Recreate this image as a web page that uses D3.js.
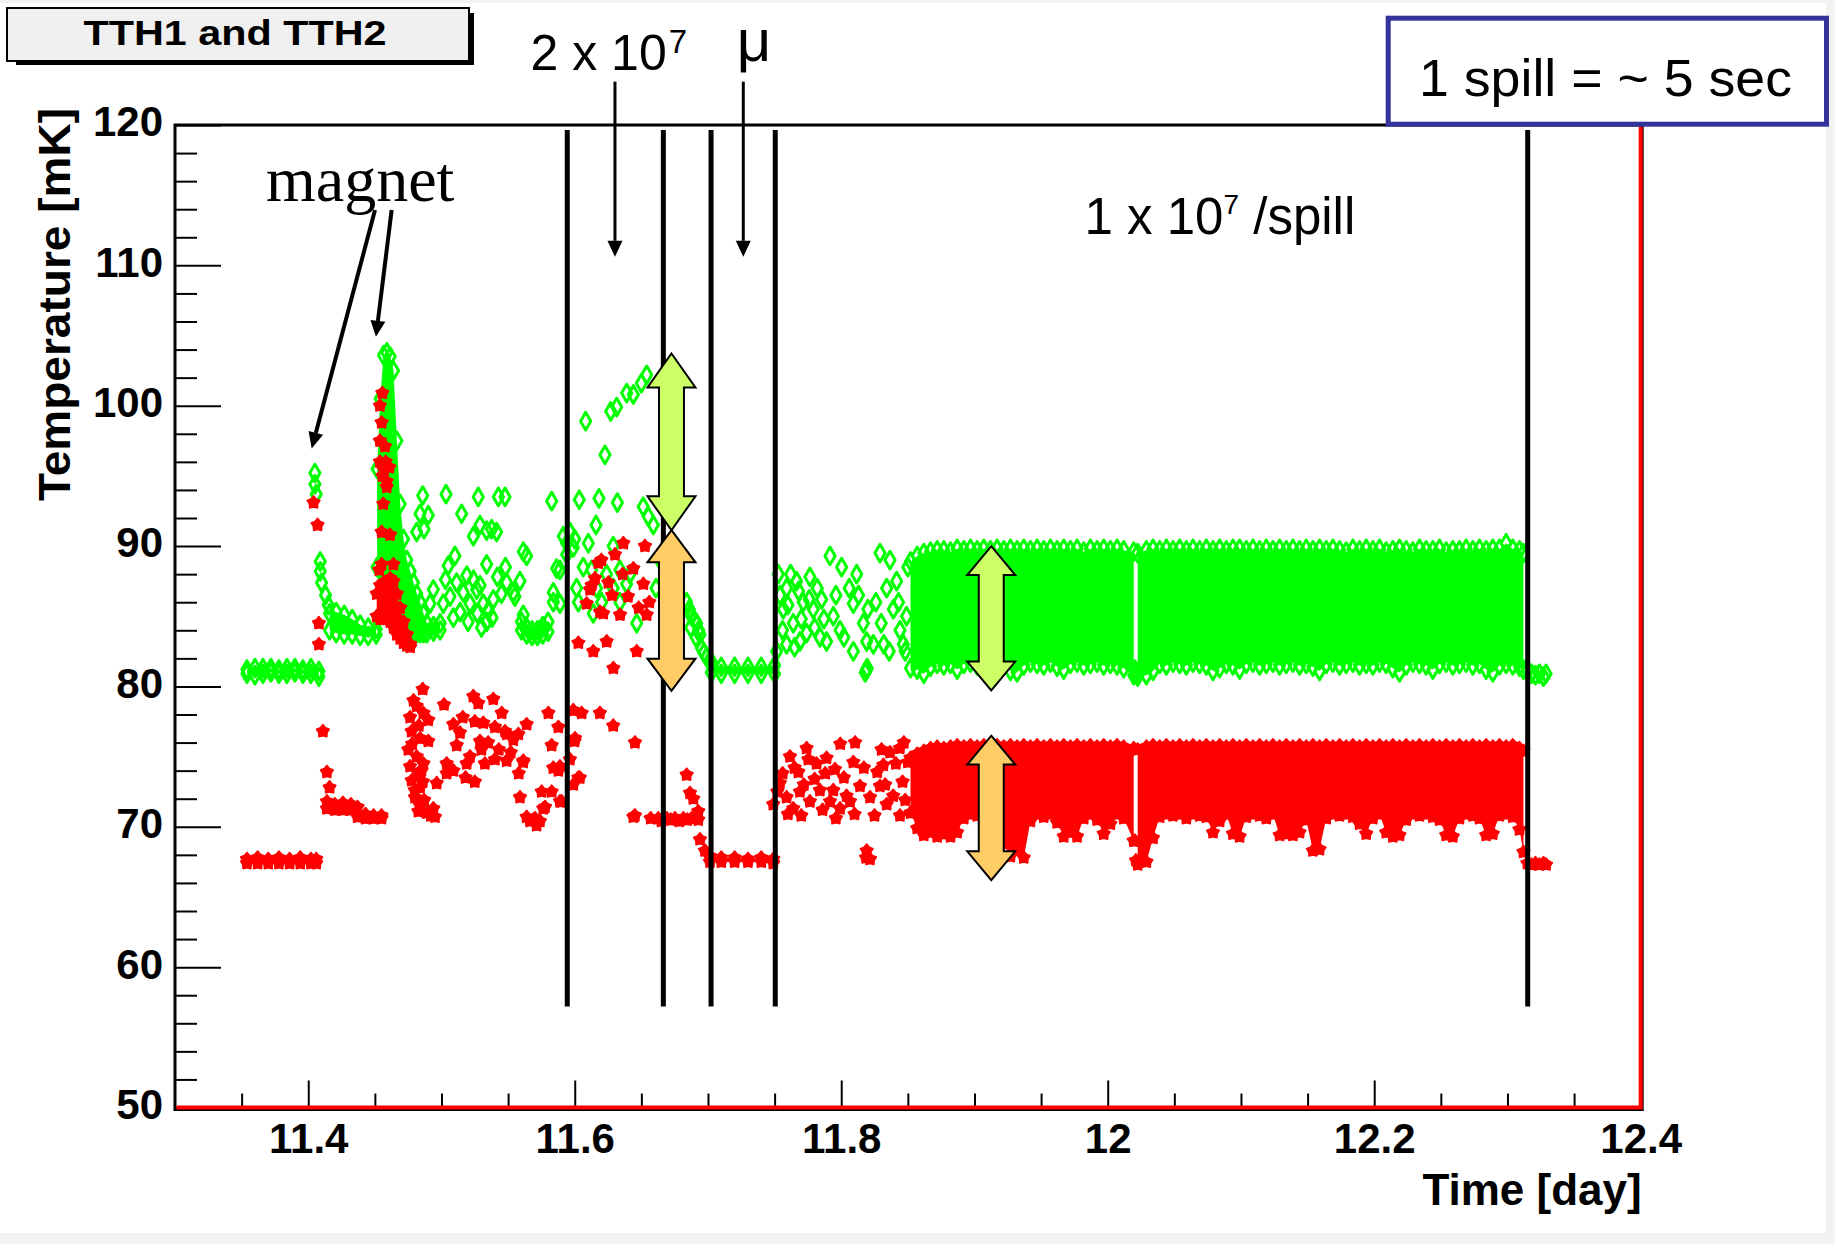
<!DOCTYPE html>
<html>
<head>
<meta charset="utf-8">
<script src="https://cdn.jsdelivr.net/npm/d3@7"></script>
<style>
  html, body { margin: 0; padding: 0; background: #f2f2f2; }
  svg { display: block; }
</style>
</head>
<body>
<svg id="chart" width="1835" height="1244"></svg>
<script>
// ---------------- axis definitions ----------------
const timeDomain = [11.3, 12.4];
const tempDomain = [50, 120];
const xMajorTicks = [11.4, 11.6, 11.8, 12.0, 12.2, 12.4];
const yMajorTicks = [50, 60, 70, 80, 90, 100, 110, 120];

// ---------------- TTH1 (green, open diamonds) ----------------
// dense stretches: [day, low mK, high mK]
const tth1Plateau = [[11.354,80.9,81.2],[11.360,80.8,81.3],[11.366,80.9,81.3],[11.372,81.0,81.3],[11.378,80.9,81.2],
  [11.384,80.9,81.3],[11.390,81.0,81.3],[11.396,80.9,81.2],[11.402,80.9,81.3],[11.408,80.7,81.1]];
const tth1AfterMagnet = [[11.416,84.0,85.2],[11.421,83.8,85.3],[11.427,83.7,85.1],[11.433,83.7,84.8],
  [11.439,83.6,84.4],[11.445,83.6,84.2],[11.451,83.7,84.1]];
const tth1MagnetSpike = [[11.4517,88.5,95.5],[11.4540,88.3,100.5],[11.4565,87.8,103.6],[11.4590,87.0,103.8],
  [11.4615,86.0,103.5],[11.4640,85.0,102.5],[11.4665,84.2,97.5],[11.4690,83.9,93.0],[11.4715,83.8,90.5],
  [11.4740,83.8,89.0],[11.4765,83.8,88.2],[11.4790,83.8,87.4],[11.4815,83.8,86.6],[11.4840,83.8,86.0],
  [11.4865,83.8,85.2],[11.4890,83.8,84.5],[11.4940,83.9,84.3],[11.4990,84.0,84.5]];
const tth1Dip = [[11.5600,84.0,84.6],[11.5640,83.7,84.2],[11.5680,83.6,84.0],[11.5720,83.6,84.0],[11.5760,83.7,84.3],[11.5800,83.9,84.6]];
const tth1MuoFlat = [[11.7025,81.0,81.6],[11.710,80.9,81.4],[11.720,80.9,81.4],[11.730,80.9,81.4],[11.740,80.9,81.4],[11.750,80.9,81.5]];
const tth1SpillA = [[11.852,81.3,88.9],[11.857,81.2,89.3],[11.862,80.9,89.5],[11.867,81.4,89.6],[11.872,81.6,89.7],
  [11.877,81.5,89.7],[11.882,81.6,89.6],[11.887,81.2,89.8],[11.892,81.6,89.7],[11.897,81.7,89.8],[11.902,81.5,89.7],
  [11.907,81.6,89.8],[11.912,81.7,89.7],[11.917,81.5,89.8],[11.922,81.6,89.7],[11.927,81.1,89.8],[11.932,81.0,89.7],
  [11.937,81.5,89.8],[11.942,81.7,89.7],[11.947,81.6,89.8],[11.952,81.5,89.7],[11.957,81.7,89.8],[11.962,81.4,89.7],
  [11.967,81.2,89.8],[11.972,81.6,89.7],[11.977,81.7,89.8],[11.982,81.5,89.6],[11.987,81.6,89.8],[11.992,81.7,89.7],
  [11.997,81.5,89.8],[12.002,81.6,89.7],[12.007,81.5,89.8],[12.012,81.3,89.7],[12.0195,80.8,89.6]];
const tth1SpillB = [[12.0225,80.7,89.5],[12.029,80.8,89.7],[12.034,81.1,89.8],[12.039,81.6,89.7],[12.044,81.5,89.8],
  [12.049,81.7,89.7],[12.054,81.6,89.8],[12.059,81.5,89.7],[12.064,81.7,89.8],[12.069,81.6,89.7],[12.074,81.5,89.8],
  [12.079,81.1,89.7],[12.084,81.3,89.8],[12.089,81.6,89.7],[12.094,81.5,89.8],[12.099,81.2,89.8],[12.104,81.6,89.7],
  [12.109,81.7,89.8],[12.114,81.5,89.7],[12.119,81.6,89.8],[12.124,81.7,89.7],[12.129,81.5,89.8],[12.134,81.6,89.7],
  [12.139,81.7,89.8],[12.144,81.5,89.7],[12.149,81.6,89.8],[12.154,81.4,89.7],[12.159,81.1,89.8],[12.164,81.6,89.7],
  [12.169,81.7,89.8],[12.174,81.5,89.7],[12.179,81.6,89.6],[12.184,81.7,89.8],[12.189,81.5,89.7],[12.194,81.6,89.8],
  [12.199,81.5,89.7],[12.204,81.7,89.8],[12.209,81.6,89.6],[12.214,81.3,89.7],[12.219,81.0,89.8],[12.224,81.5,89.7],
  [12.229,81.7,89.6],[12.234,81.6,89.8],[12.239,81.5,89.7],[12.244,81.2,89.7],[12.249,81.6,89.8],[12.254,81.7,89.6],
  [12.259,81.5,89.7],[12.264,81.6,89.7],[12.269,81.7,89.8],[12.274,81.5,89.7],[12.279,81.6,89.8],[12.284,81.2,89.7],
  [12.289,81.0,89.8],[12.294,81.5,89.8],[12.299,81.6,90.2],[12.304,81.5,89.8],[12.309,81.4,89.7],[12.312,81.2,89.5]];

// single readings: [day, mK]
const tth1Points = [
  [11.405,95.2],[11.405,94.4],[11.406,93.7],[11.409,88.9],[11.409,88.2],[11.410,87.4],[11.413,86.5],[11.415,85.8],
  [11.4859,93.6],[11.5034,93.7],[11.5276,93.5],[11.5427,93.5],[11.5477,93.5],[11.5827,93.2],
  [11.4839,92.3],[11.4901,92.2],[11.4814,91.0],[11.4869,91.2],[11.5151,92.3],[11.5289,91.5],[11.5239,90.7],
  [11.5339,91.1],[11.5414,91.0],[11.5376,91.2],
  [11.5101,89.3],[11.5339,88.7],[11.5114,87.4],[11.5064,86.4],[11.5014,85.9],[11.5164,86.7],[11.5214,85.9],
  [11.5264,86.9],[11.5314,85.9],[11.5351,85.4],[11.5389,86.2],[11.5089,84.9],[11.5339,84.6],[11.5489,87.4],
  [11.5539,86.7],[11.5589,87.5],[11.5614,89.6],[11.5551,86.4],[11.4939,86.9],[11.4914,85.9],
  [11.5190,87.9],[11.5240,87.6],[11.5290,87.2],[11.5140,85.3],[11.5200,84.6],[11.5270,85.2],[11.5300,84.2],
  [11.5380,84.9],[11.5420,87.8],[11.5450,86.6],[11.5480,88.5],[11.5050,88.6],[11.5030,87.6],
  [11.5839,86.7],[11.5864,88.4],[11.5889,85.9],[11.5914,90.7],[11.5940,90.2],[11.5964,91.0],[11.5989,89.9],
  [11.6000,90.5],[11.5939,89.4],
  [11.6034,93.3],[11.6182,93.4],[11.6320,93.1],[11.6514,92.8],[11.6552,92.1],[11.6590,91.5],[11.6160,91.5],
  [11.6102,90.2],[11.6289,90.0],[11.5639,89.3],[11.5889,88.3],[11.6064,88.5],[11.6127,88.3],[11.6239,88.0],
  [11.6339,88.3],[11.6414,88.0],[11.6014,87.0],[11.6164,87.0],[11.6289,87.0],[11.6389,87.3],[11.5839,86.0],
  [11.6027,86.0],[11.6202,86.0],[11.6339,86.0],[11.5614,85.1],[11.6465,84.5],[11.6139,85.2],[11.5739,84.0],
  [11.6082,98.9],[11.6227,96.5],[11.6270,99.6],[11.6315,99.9],[11.6390,100.9],[11.6440,100.8],[11.6500,101.6],[11.6540,102.2],
  [11.6640,89.0],[11.6610,87.0],[11.6700,88.0],
  [11.6840,86.0],[11.6860,85.5],[11.6877,85.0],[11.6900,84.7],[11.6915,84.5],[11.6930,84.0],[11.6940,83.7],
  [11.6952,82.7],[11.6970,82.4],[11.6990,82.1],[11.7010,81.8],[11.7028,81.7],[11.6870,84.2],[11.6910,83.5],
  [11.7528,88.0],[11.7590,87.0],[11.7665,87.5],[11.7765,87.8],[11.7565,85.5],[11.7640,84.5],[11.7715,86.0],
  [11.7790,85.5],[11.7853,86.2],[11.7916,89.3],[11.8003,88.5],[11.8116,88.0],[11.8291,89.5],[11.8366,89.0],
  [11.8091,85.9],[11.7941,85.0],[11.7991,84.0],[11.7841,83.5],[11.7690,83.2],[11.7590,83.0],[11.7515,82.5],
  [11.8166,84.5],[11.8191,83.2],[11.8241,83.0],[11.8341,87.0],[11.8391,85.5],[11.8441,84.0],[11.8466,83.0],
  [11.8416,87.5],[11.8091,82.5],[11.8180,81.0],[11.8191,81.2],[11.8195,81.3],
  [11.7540,86.5],[11.7600,85.8],[11.7620,88.0],[11.7680,86.8],[11.7700,84.8],[11.7740,83.8],[11.7760,86.2],
  [11.7800,84.2],[11.7820,87.0],[11.7870,84.8],[11.7890,83.2],[11.7960,86.5],[11.8020,83.5],[11.8060,87.0],
  [11.8130,86.5],[11.8200,85.5],[11.8260,86.0],[11.8300,84.5],[11.8320,83.0],[11.8360,82.5],[11.8430,86.0],
  [11.8490,85.0],[11.8500,88.5],[11.8480,82.5],[11.7560,84.0],[11.7650,82.8],
  [12.0205,81.2],[12.0212,80.9],
  [12.315,81.2],[12.318,80.9],[12.321,80.8],[12.324,80.9],[12.327,80.7],[12.329,80.9]
];

// ---------------- TTH2 (red, filled stars) ----------------
const tth2Plateau = [[11.354,67.4,67.7],[11.362,67.4,67.8],[11.370,67.4,67.7],[11.378,67.4,67.8],[11.386,67.4,67.7],
  [11.394,67.4,67.8],[11.402,67.4,67.7],[11.406,67.4,67.7]];
const tth2AfterMagnet = [[11.414,71.3,71.8],[11.420,71.2,71.6],[11.426,71.2,71.7],[11.432,71.2,71.6],[11.437,70.7,71.4],
  [11.443,70.6,70.9],[11.449,70.6,70.8],[11.455,70.6,70.8]];
const tth2MagnetSpike = [[11.4514,85.0,86.6],[11.4540,84.8,87.2],[11.4565,84.8,87.4],[11.4590,84.8,87.4],
  [11.4615,84.6,87.7],[11.4640,84.2,87.5],[11.4665,83.7,86.6],[11.4690,83.4,85.6],[11.4715,83.1,84.6],
  [11.4740,82.9,83.7],[11.4765,82.8,83.0]];
const tth2MuoFlat = [[11.7015,67.5,67.9],[11.710,67.5,67.8],[11.720,67.5,67.8],[11.730,67.5,67.7],[11.740,67.5,67.8],[11.749,67.4,67.7]];
const tth2SpillA = [[11.852,71.0,74.9],[11.857,69.9,75.2],[11.862,69.4,75.4],[11.867,69.6,75.6],[11.872,69.3,75.7],
  [11.877,69.5,75.6],[11.882,69.3,75.7],[11.887,69.6,75.8],[11.892,70.6,75.7],[11.897,70.9,75.8],[11.902,70.8,75.7],
  [11.907,70.9,75.8],[11.912,70.7,75.7],[11.917,70.9,75.8],[11.922,68.8,75.7],[11.927,67.9,75.8],[11.932,68.4,75.7],
  [11.937,67.8,75.8],[11.942,70.4,75.7],[11.947,70.9,75.8],[11.952,70.7,75.7],[11.957,70.9,75.8],[11.962,70.3,75.7],
  [11.967,69.3,75.8],[11.972,69.6,75.7],[11.977,69.3,75.8],[11.982,70.6,75.7],[11.987,70.9,75.8],[11.992,70.5,75.7],
  [11.997,69.5,75.8],[12.002,70.2,75.7],[12.007,70.9,75.8],[12.012,70.6,75.7],[12.0195,69.0,75.6]];
const tth2SpillB = [[12.0225,67.3,75.5],[12.029,67.5,75.7],[12.034,69.2,75.8],[12.039,70.7,75.7],[12.044,70.9,75.8],
  [12.049,70.8,75.7],[12.054,70.9,75.8],[12.059,70.6,75.7],[12.064,70.9,75.8],[12.069,70.8,75.7],[12.074,70.7,75.8],
  [12.079,69.6,75.7],[12.084,70.4,75.8],[12.089,70.9,75.7],[12.094,69.5,75.8],[12.099,69.3,75.7],[12.104,70.7,75.8],
  [12.109,70.9,75.7],[12.114,70.8,75.8],[12.119,70.6,75.7],[12.124,70.9,75.8],[12.129,69.4,75.7],[12.134,69.5,75.8],
  [12.139,69.4,75.7],[12.144,69.6,75.8],[12.149,70.5,75.7],[12.154,68.3,75.8],[12.159,68.4,75.7],[12.164,70.6,75.8],
  [12.169,70.9,75.7],[12.174,70.8,75.8],[12.179,70.9,75.7],[12.184,70.7,75.8],[12.189,70.2,75.7],[12.194,69.5,75.8],
  [12.199,70.6,75.7],[12.204,70.9,75.8],[12.209,69.6,75.7],[12.214,69.3,75.8],[12.219,69.4,75.7],[12.224,70.5,75.8],
  [12.229,70.9,75.7],[12.234,70.8,75.8],[12.239,70.9,75.7],[12.244,70.7,75.8],[12.249,70.5,75.7],[12.254,69.4,75.8],
  [12.259,69.3,75.7],[12.264,70.6,75.8],[12.269,70.9,75.7],[12.274,70.8,75.8],[12.279,70.6,75.7],[12.284,69.4,75.8],
  [12.289,69.5,75.7],[12.294,70.8,75.8],[12.299,70.9,75.7],[12.304,70.7,75.8],[12.309,69.8,75.6],[12.312,68.2,75.4]];

const tth2Points = [
  [11.404,93.1],[11.407,91.5],[11.408,84.5],[11.408,83.0],[11.411,76.8],[11.414,73.9],[11.416,72.8],
  [11.4556,100.9],[11.4538,100.0],[11.4551,98.8],[11.4538,97.5],[11.4576,97.1],[11.4538,96.0],[11.4581,96.0],
  [11.4563,95.5],[11.4609,95.6],[11.4556,95.0],[11.4589,94.6],[11.4563,93.0],[11.4589,94.2],[11.4551,91.0],
  [11.4614,90.8],[11.4551,88.7],[11.4533,88.3],[11.4639,88.7],[11.4589,87.5],
  [11.4859,79.8],[11.4814,78.6],[11.4864,78.1],[11.4901,77.6],[11.4764,77.8],[11.4776,76.8],[11.4839,76.3],
  [11.4901,76.1],[11.4751,75.5],[11.4814,75.0],[11.4864,74.5],[11.4764,74.3],[11.4826,73.8],[11.4776,73.3],
  [11.4839,72.8],[11.4801,72.1],[11.4839,71.5],[11.4889,71.0],[11.4939,71.3],[11.4951,70.7],[11.4826,71.1],
  [11.4790,79.0],[11.4830,77.2],[11.4780,75.9],[11.4850,74.0],[11.4800,72.6],[11.4860,73.2],[11.4870,71.9],[11.4920,70.8],
  [11.5019,78.7],[11.5239,79.3],[11.5276,78.8],[11.5389,79.1],[11.5452,78.1],[11.5089,77.3],[11.5139,76.7],
  [11.5314,77.4],[11.5401,77.1],[11.5489,76.6],[11.5539,76.2],[11.5577,76.6],[11.5639,77.3],[11.5477,76.8],
  [11.5114,75.8],[11.5289,76.1],[11.5214,75.0],[11.5039,74.5],[11.5089,74.0],[11.5189,74.5],[11.5326,74.5],
  [11.5401,74.8],[11.5489,74.7],[11.5614,74.7],[11.5039,73.8],[11.4964,73.1],[11.5802,78.1],[11.5827,75.8],
  [11.5839,74.2],[11.5889,74.3],[11.5877,77.1],[11.5752,72.5],[11.5777,71.4],[11.5889,71.8],[11.5589,72.1],
  [11.5639,70.7],[11.5664,70.4],[11.5689,70.5],[11.5714,70.1],[11.5739,70.4],
  [11.5160,77.8],[11.5250,77.5],[11.5300,75.5],[11.5350,76.0],[11.5180,73.5],[11.5250,73.2],[11.5430,75.5],
  [11.5520,75.3],[11.5580,73.8],
  [11.5989,78.3],[11.6052,78.1],[11.6189,78.1],[11.6289,77.2],[11.6002,76.3],[11.6039,73.5],[11.6452,76.0],
  [11.6440,70.7],[11.5999,76.1],[11.5614,74.6],[11.5964,74.8],[11.5877,74.0],[11.6027,73.5],[11.5827,72.5],
  [11.5989,73.0],[11.5764,71.3],[11.5702,70.6],[11.5902,71.8],[11.6452,70.8],
  [11.6365,90.2],[11.6527,90.0],[11.6302,89.4],[11.6177,88.8],[11.6440,88.4],[11.6152,87.7],[11.6252,87.4],
  [11.6115,86.9],[11.6515,87.3],[11.6089,85.9],[11.6190,85.3],[11.6340,85.1],[11.6540,85.1],[11.6027,83.1],
  [11.6139,82.5],[11.6240,83.2],[11.6465,82.5],[11.6290,81.3],[11.6127,87.2],[11.6214,85.2],[11.6400,86.4],
  [11.6360,88.0],[11.6280,86.5],[11.6200,89.0],[11.6480,85.6],[11.6560,86.0],
  [11.6570,70.6],[11.6627,70.6],[11.6650,70.4],[11.6690,70.6],[11.6720,70.5],[11.6752,70.6],[11.6785,70.4],
  [11.6815,70.6],[11.6845,70.5],[11.6877,70.6],[11.6927,70.5],[11.6927,71.1],[11.6840,73.7],[11.6865,72.4],
  [11.6890,72.0],[11.6940,69.1],[11.6977,68.3],[11.7015,67.8],
  [11.7740,75.6],[11.7753,74.8],[11.7993,75.9],[11.8104,76.0],[11.7615,75.0],[11.7678,73.9],[11.7815,74.5],
  [11.7890,74.9],[11.7953,74.1],[11.8091,74.6],[11.8303,75.5],[11.8366,75.3],[11.8316,74.4],[11.7540,73.1],
  [11.7590,72.1],[11.7690,72.5],[11.7765,71.8],[11.7840,72.6],[11.7916,71.8],[11.7991,71.3],[11.8066,71.8],
  [11.8141,72.9],[11.8216,72.1],[11.8291,72.9],[11.8341,71.6],[11.8441,70.8],[11.7490,71.6],[11.7640,71.3],
  [11.8191,68.3],[11.8216,67.7],[11.8186,67.8],
  [11.7520,72.5],[11.7560,73.8],[11.7600,70.9],[11.7650,74.2],[11.7700,70.8],[11.7720,73.0],[11.7800,73.4],
  [11.7860,71.2],[11.7880,73.8],[11.7940,72.6],[11.7960,70.6],[11.8020,73.5],[11.8040,72.2],[11.8100,70.9],
  [11.8170,74.2],[11.8250,70.8],[11.8270,73.9],[11.8330,73.0],[11.8390,72.2],[11.8410,74.5],[11.8460,73.2],
  [11.8480,71.9],[11.8500,74.6],[11.8440,75.6],[11.8470,76.0],
  [12.0205,69.0],[12.0212,67.6],
  [12.315,67.4],[12.318,67.3],[12.321,67.4],[12.324,67.3],[12.327,67.4],[12.329,67.3]
];

// ---------------- annotations (in data units) ----------------
const beamChangeDays = [11.5944, 11.6665, 11.7023, 11.7505, 12.3152];
const beamLineSpan = [57.2, 119.64];
const rangeArrows = [
  { day: 11.6726, from: 103.72, to: 91.13, fill: '#ccff66' },
  { day: 11.6726, from: 91.13, to: 79.69, fill: '#ffcc66' },
  { day: 11.9126, from: 89.99, to: 79.72, fill: '#ccff66' },
  { day: 11.9126, from: 76.49, to: 66.19, fill: '#ffcc66' }
];
const pointerArrows = [
  { from: [11.4501, 113.94], to: [11.4026, 96.96], width: 4 },
  { from: [11.4626, 113.94], to: [11.4508, 104.91], width: 4 },
  { from: [11.6302, 123.09], to: [11.6302, 110.61], width: 3 },
  { from: [11.7265, 123.09], to: [11.7265, 110.61], width: 3 }
];

// ---------------- drawing ----------------
const svg = d3.select('#chart');
const SANS = "'Liberation Sans', Arial, Helvetica, sans-serif";
const SERIF = "'Liberation Serif', 'Times New Roman', serif";

svg.append('rect').attr('x', 0).attr('y', 3).attr('width', 1826).attr('height', 1230).attr('fill', '#ffffff');

const x = d3.scaleLinear().domain(timeDomain).range([175, 1640.7]);
const y = d3.scaleLinear().domain(tempDomain).range([1107.5, 125]);

// chunky five-pointed star, like the pixel markers of the DAQ plots
const fatStar = {
  draw(context, size) {
    const r = Math.sqrt(size / 1.9), ri = r * 0.66;
    for (let i = 0; i < 10; i++) {
      const a = -Math.PI / 2 + i * Math.PI / 5, rr = i % 2 ? ri : r;
      const px = rr * Math.cos(a), py = rr * Math.sin(a);
      if (i === 0) context.moveTo(px, py); else context.lineTo(px, py);
    }
    context.closePath();
  }
};

const dataLayer = svg.append('g');
const diamond = d3.symbol(d3.symbolDiamond, 90);
const star = d3.symbol(fatStar, 85);

function drawMarkers(layer, pts, color, sym, hollow) {
  layer.append('g').selectAll('path').data(pts).enter().append('path')
    .attr('d', sym())
    .attr('transform', d => `translate(${x(d[0])},${y(d[1])})`)
    .attr('fill', hollow ? 'none' : color)
    .attr('stroke', color)
    .attr('stroke-linejoin', 'round')
    .attr('stroke-width', hollow ? 3 : 1.5);
}
function drawBand(layer, band, color, sym, hollow) {
  const area = d3.area().x(d => x(d[0])).y0(d => y(d[1])).y1(d => y(d[2]));
  layer.append('path').attr('d', area(band)).attr('fill', color);
  const edge = band.flatMap(d => [[d[0], d[1]], [d[0], d[2]]]);
  drawMarkers(layer, edge, color, sym, hollow);
}

const GREEN = '#00ff00', RED = '#ff0000';
[tth1Plateau, tth1AfterMagnet, tth1MagnetSpike, tth1Dip, tth1MuoFlat, tth1SpillA, tth1SpillB]
  .forEach(b => drawBand(dataLayer, b, GREEN, diamond, true));
drawMarkers(dataLayer, tth1Points, GREEN, diamond, true);
[tth2Plateau, tth2AfterMagnet, tth2MagnetSpike, tth2MuoFlat, tth2SpillA, tth2SpillB]
  .forEach(b => drawBand(dataLayer, b, RED, star, false));
drawMarkers(dataLayer, tth2Points, RED, star, false);

// axes with inward ticks
function styleAxis(g) {
  g.select('.domain').remove();
  g.selectAll('.tick line').attr('stroke', '#000').attr('stroke-width', 2);
  g.attr('font-family', SANS).attr('font-size', 42).attr('font-weight', 'bold');
  g.selectAll('text').attr('fill', '#000');
}
const xMinor = d3.range(0, 23).map(i => +(11.3 + i * 0.05).toFixed(2))
  .filter(v => !xMajorTicks.some(m => Math.abs(m - v) < 1e-6) && v > 11.3);
const yMinor = d3.range(50, 121, 2).filter(v => v % 10 !== 0);

const xAxisMinor = svg.append('g').attr('transform', `translate(0,${y(50)})`)
  .call(d3.axisBottom(x).tickValues(xMinor).tickSize(-14).tickFormat(''));
styleAxis(xAxisMinor);
const xAxis = svg.append('g').attr('transform', `translate(0,${y(50)})`)
  .call(d3.axisBottom(x).tickValues(xMajorTicks).tickSize(-27).tickPadding(16)
    .tickFormat(d => String(+d.toFixed(1))));
styleAxis(xAxis);

const yAxisMinor = svg.append('g').attr('transform', `translate(${x(11.3)},0)`)
  .call(d3.axisLeft(y).tickValues(yMinor).tickSize(-22).tickFormat(''));
styleAxis(yAxisMinor);
const yAxis = svg.append('g').attr('transform', `translate(${x(11.3)},0)`)
  .call(d3.axisLeft(y).tickValues(yMajorTicks).tickSize(-46).tickPadding(12));
styleAxis(yAxis);
yAxis.selectAll('text').attr('dy', '0.26em');

// frame: black box, red bottom and right edges of the second graph
svg.append('rect').attr('x', x(11.3)).attr('y', y(120)).attr('width', x(12.4) - x(11.3) + 1.5)
  .attr('height', y(50) - y(120) + 2).attr('fill', 'none').attr('stroke', '#000').attr('stroke-width', 3);
svg.append('path')
  .attr('d', `M${x(12.4)},${y(120) + 2}V${y(50)}H${x(11.3) + 1.5}`)
  .attr('fill', 'none').attr('stroke', RED).attr('stroke-width', 4);

// axis titles
svg.append('text').attr('x', x(12.4) + 1).attr('y', 1205).attr('text-anchor', 'end')
  .attr('font-family', SANS).attr('font-size', 44).attr('font-weight', 'bold').text('Time [day]');
svg.append('text').attr('transform', 'translate(70,501) rotate(-90)')
  .attr('font-family', SANS).attr('font-size', 44).attr('font-weight', 'bold')
  .attr('textLength', 393).attr('lengthAdjust', 'spacingAndGlyphs').text('Temperature [mK]');

// beam condition changes
svg.append('g').selectAll('line').data(beamChangeDays).enter().append('line')
  .attr('x1', d => x(d)).attr('x2', d => x(d))
  .attr('y1', y(beamLineSpan[1])).attr('y2', y(beamLineSpan[0]))
  .attr('stroke', '#000').attr('stroke-width', 5);

// double-headed block arrows marking the temperature swing
svg.append('g').selectAll('path').data(rangeArrows).enter().append('path')
  .attr('d', d => {
    const cx = x(d.day), ty = y(d.from), by = y(d.to);
    const hl = Math.min(34, (by - ty) * 0.2), hw = 24, sw = 12.5;
    return `M${cx},${ty}L${cx + hw},${ty + hl}L${cx + sw},${ty + hl}L${cx + sw},${by - hl}` +
      `L${cx + hw},${by - hl}L${cx},${by}L${cx - hw},${by - hl}L${cx - sw},${by - hl}` +
      `L${cx - sw},${ty + hl}L${cx - hw},${ty + hl}Z`;
  })
  .attr('fill', d => d.fill).attr('stroke', '#000').attr('stroke-width', 2).attr('stroke-linejoin', 'miter');

// pointer arrows
const arrowLayer = svg.append('g');
pointerArrows.forEach(a => {
  const x1 = x(a.from[0]), y1 = y(a.from[1]), x2 = x(a.to[0]), y2 = y(a.to[1]);
  const ang = Math.atan2(y2 - y1, x2 - x1);
  const hl = 16, hw = 7.5;
  const bx = x2 - hl * Math.cos(ang), by = y2 - hl * Math.sin(ang);
  arrowLayer.append('line').attr('x1', x1).attr('y1', y1).attr('x2', bx).attr('y2', by)
    .attr('stroke', '#000').attr('stroke-width', a.width);
  const px = -Math.sin(ang) * hw, py = Math.cos(ang) * hw;
  arrowLayer.append('path')
    .attr('d', `M${x2},${y2}L${bx + px},${by + py}L${bx - px},${by - py}Z`).attr('fill', '#000');
});

// annotation labels
svg.append('text').attr('x', x(11.3683)).attr('y', y(114.58))
  .attr('font-family', SERIF).attr('font-size', 64).text('magnet');

const beamLabel = svg.append('text').attr('x', x(11.5668)).attr('y', y(123.92))
  .attr('font-family', SANS).attr('font-size', 50);
beamLabel.append('tspan').text('2 x 10');
beamLabel.append('tspan').attr('font-size', 33).attr('dy', -17).attr('dx', 2).text('7');

svg.append('text').attr('x', x(11.7346)).attr('y', y(124.56)).attr('text-anchor', 'middle')
  .attr('font-family', SANS).attr('font-size', 60).text('\u03bc');

const spillLabel = svg.append('text').attr('x', x(11.9826)).attr('y', y(112.23))
  .attr('font-family', SANS).attr('font-size', 51);
spillLabel.append('tspan').text('1 x 10');
spillLabel.append('tspan').attr('font-size', 28).attr('dy', -20).text('7');
spillLabel.append('tspan').attr('dy', 20).text(' /spill');

// title pave with shadow
svg.append('rect').attr('x', 16).attr('y', 13).attr('width', 458).attr('height', 52).attr('fill', '#000');
svg.append('rect').attr('x', 7).attr('y', 8).attr('width', 462).attr('height', 53)
  .attr('fill', '#f0f0f0').attr('stroke', '#000').attr('stroke-width', 2);
svg.append('text').attr('x', 83.5).attr('y', 45)
  .attr('font-family', SANS).attr('font-size', 35).attr('font-weight', 'bold')
  .attr('textLength', 303).attr('lengthAdjust', 'spacingAndGlyphs').text('TTH1 and TTH2');

// spill duration note
svg.append('rect').attr('x', 1388.2).attr('y', 18.2).attr('width', 438.3).attr('height', 106)
  .attr('fill', '#ffffff').attr('stroke', '#333399').attr('stroke-width', 5);
svg.append('text').attr('x', 1419).attr('y', 96)
  .attr('font-family', SANS).attr('font-size', 52)
  .attr('textLength', 373).attr('lengthAdjust', 'spacingAndGlyphs').text('1 spill = ~ 5 sec');
</script>
</body>
</html>
